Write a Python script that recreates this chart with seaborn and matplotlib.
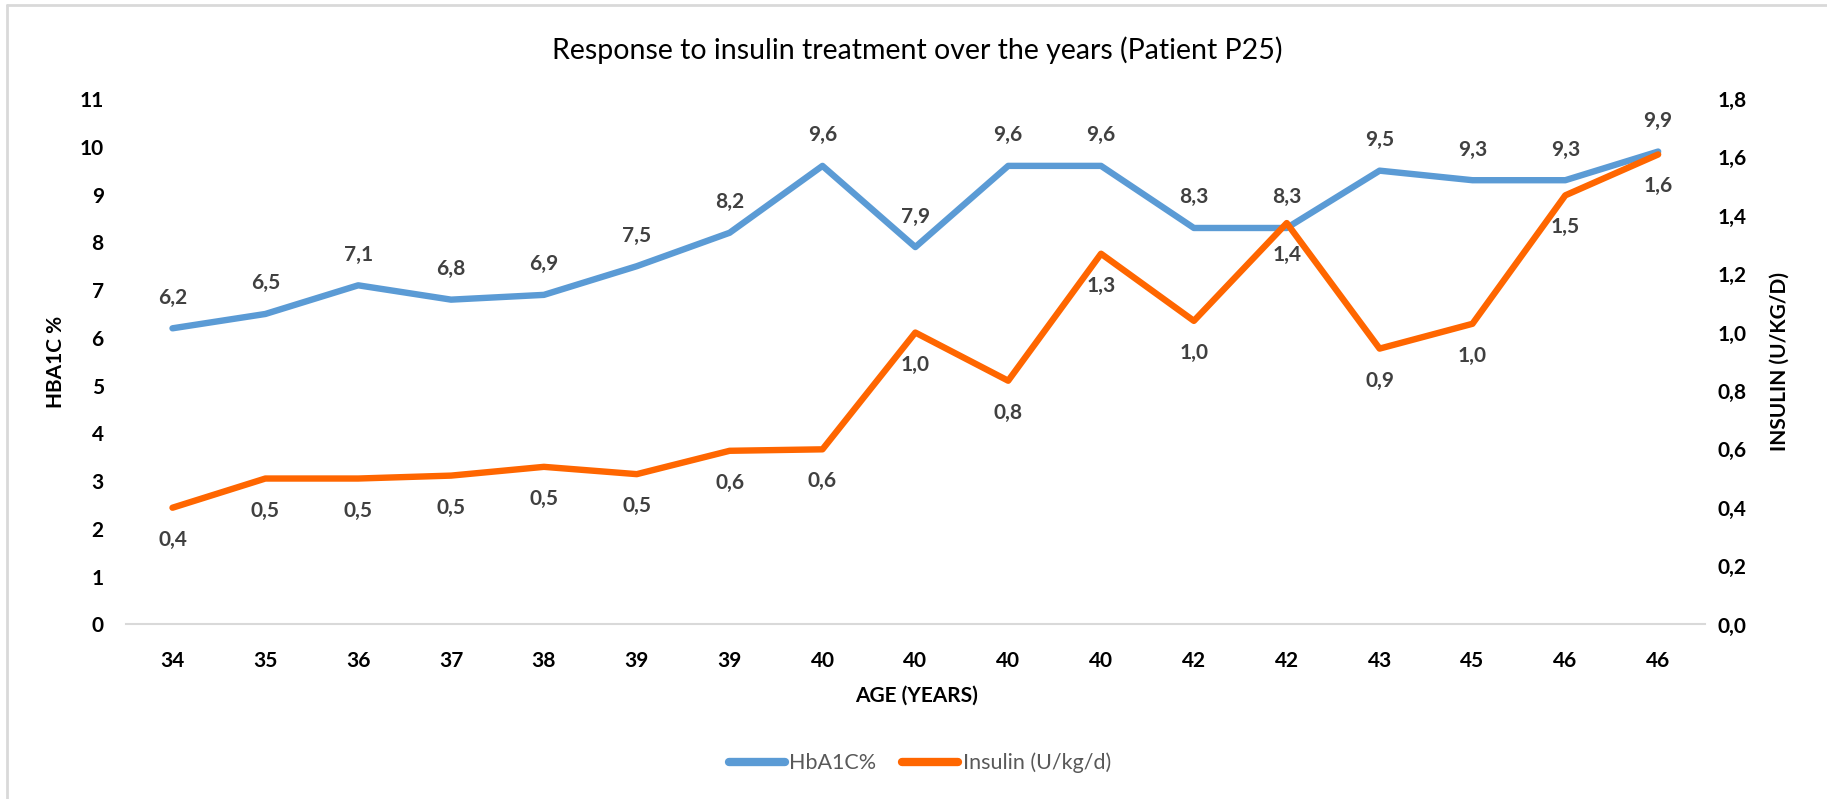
import matplotlib
matplotlib.use("Agg")
import matplotlib.pyplot as plt
import matplotlib.ticker as mticker
from matplotlib.lines import Line2D
import numpy as np
import pandas as pd
import seaborn as sns

# Visit ages (category labels) and measured values per visit
ages = ["34", "35", "36", "37", "38", "39", "39", "40", "40", "40", "40",
        "42", "42", "43", "45", "46", "46"]
hba1c = [6.2, 6.5, 7.1, 6.8, 6.9, 7.5, 8.2, 9.6, 7.9, 9.6, 9.6,
         8.3, 8.3, 9.5, 9.3, 9.3, 9.9]
insulin = [0.40, 0.50, 0.50, 0.51, 0.54, 0.515, 0.595, 0.60, 1.00, 0.835, 1.27,
           1.04, 1.375, 0.945, 1.03, 1.47, 1.61]

title = "Response to insulin treatment over the years (Patient P25)"
hba_name = "HbA1C%"
ins_name = "Insulin (U/kg/d)"

BLUE = "#5B9BD5"
ORANGE = "#FF6600"
LABEL_GREY = "#404040"
FONT = "Lato"
TICK_FS = 15

sns.set_theme(style="white")
plt.rcParams["font.family"] = [FONT, "DejaVu Sans"]

df = pd.DataFrame({"pos": np.arange(len(ages)), "age": ages,
                   "hba1c": hba1c, "insulin": insulin})

fig = plt.figure(figsize=(18.27, 7.99), dpi=100)
ax = fig.add_axes([0.069, 0.2184, 0.864, 0.6577])
ax2 = ax.twinx()

sns.lineplot(data=df, x="pos", y="hba1c", ax=ax, color=BLUE, lw=4.6,
             sort=False, legend=False, solid_capstyle="round")
sns.lineplot(data=df, x="pos", y="insulin", ax=ax2, color=ORANGE, lw=4.6,
             sort=False, legend=False, solid_capstyle="round")

ax.set_xlim(-0.5, len(ages) - 0.5)
ax.set_ylim(0, 11)
ax2.set_ylim(0, 1.8)

ax.set_xticks(df["pos"])
ax.set_xticklabels(ages, fontsize=TICK_FS, fontweight="bold", color="black")
ax.set_yticks(np.arange(0, 12, 1))
ax.yaxis.set_major_formatter(mticker.FuncFormatter(lambda v, p: f"{v:.0f}"))
ax2.set_yticks(np.round(np.arange(0, 1.81, 0.2), 1))
ax2.yaxis.set_major_formatter(
    mticker.FuncFormatter(lambda v, p: f"{v:.1f}".replace(".", ",")))

for a in (ax, ax2):
    a.grid(False)
    for s in a.spines.values():
        s.set_visible(False)
    a.tick_params(length=0)
ax.spines["bottom"].set_visible(True)
ax.spines["bottom"].set_color("#D9D9D9")
ax.spines["bottom"].set_linewidth(1.5)

ax.tick_params(axis="x", pad=19)
ax.tick_params(axis="y", pad=16, labelsize=TICK_FS)
ax2.tick_params(axis="y", pad=9, labelsize=TICK_FS)
for lab in ax.get_yticklabels() + ax2.get_yticklabels():
    lab.set_fontweight("bold")
    lab.set_color("black")

ax.set_xlabel("AGE (YEARS)", fontsize=15, fontweight="bold", color="black",
              va="center")
ax.xaxis.set_label_coords(0.501, -0.136)
ax.set_ylabel("HBA1C %", fontsize=15, fontweight="bold", color="black",
              va="center")
ax.yaxis.set_label_coords(-0.0443, 0.5)
ax2.set_ylabel("INSULIN (U/KG/D)", fontsize=15, fontweight="bold",
               color="black", va="center")
ax2.yaxis.set_label_coords(1.0475, 0.5)

# Value labels: HbA1c above the line, insulin below
for x, v in zip(df["pos"], hba1c):
    ax.annotate(f"{v:.1f}".replace(".", ","), (x, v), xytext=(0, 22),
                textcoords="offset points", ha="center", va="center",
                fontsize=15, fontweight="bold", color=LABEL_GREY)
for x, v in zip(df["pos"], insulin):
    ax2.annotate(f"{v:.1f}".replace(".", ","), (x, v), xytext=(0, -23),
                 textcoords="offset points", ha="center", va="center",
                 fontsize=15, fontweight="bold", color=LABEL_GREY)

fig.text(0.502, 0.937, title, ha="center", va="center", fontsize=20.5,
         color="black")

handles = [Line2D([], [], color=BLUE, lw=6, solid_capstyle="round"),
           Line2D([], [], color=ORANGE, lw=6, solid_capstyle="round")]
fig.legend(handles, [hba_name, ins_name], loc="center",
           bbox_to_anchor=(0.5036, 0.045), ncol=2, frameon=False,
           fontsize=15.5, handlelength=2.6, handletextpad=0.2,
           columnspacing=1.2, labelcolor="#595959")

# Chart-area frame (top and left edges)
fig.add_artist(Line2D([0.0038, 0.0038], [0, 0.9937], color="#D9D9D9", lw=2.0,
                      transform=fig.transFigure))
fig.add_artist(Line2D([0.0038, 1.0], [0.9937, 0.9937], color="#D9D9D9", lw=2.0,
                      transform=fig.transFigure))

fig.savefig("out.png", dpi=100, facecolor="white")
